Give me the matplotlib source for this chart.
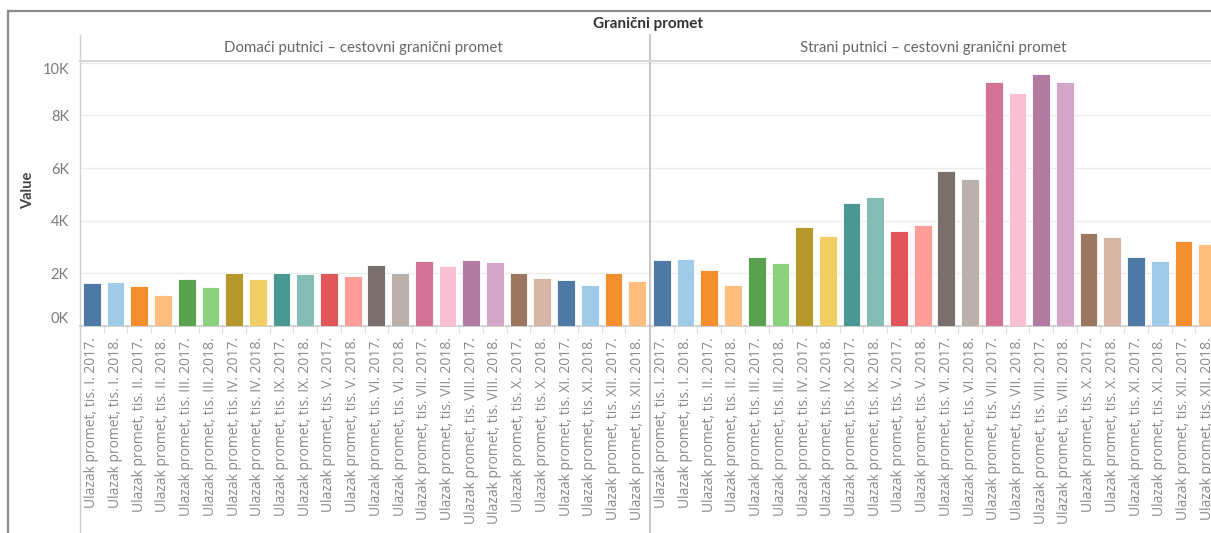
import matplotlib
matplotlib.use("Agg")
import matplotlib.pyplot as plt
from matplotlib.lines import Line2D
from matplotlib.ticker import FuncFormatter

# ---- data ----
months = ["I", "II", "III", "IV", "IX", "V", "VI", "VII", "VIII", "X", "XI", "XII"]
years = ["2017", "2018"]
categories = [f"Ulazak promet, tis. {m}. {y}." for m in months for y in years]

domaci = [1625, 1676, 1537, 1172, 1802, 1499, 2028, 1802, 2028, 1991, 2028, 1902,
          2320, 2000, 2469, 2296, 2519, 2432, 2000, 1815, 1765, 1543, 2000, 1728]
strani = [2520, 2557, 2117, 1575, 2608, 2394, 3780, 3427, 4674, 4901, 3603, 3830,
          5896, 5581, 9260, 8857, 9575, 9260, 3553, 3376, 2608, 2482, 3238, 3112]

panel_titles = ["Domaći putnici – cestovni granični promet",
                "Strani putnici – cestovni granični promet"]
main_title = "Granični promet"
y_label = "Value"
y_ticks = [0, 2000, 4000, 6000, 8000, 10000]

tableau20 = ["#4E79A7", "#A0CBE8", "#F28E2B", "#FFBE7D", "#59A14F", "#8CD17D",
             "#B6992D", "#F1CE63", "#499894", "#86BCB6", "#E15759", "#FF9D9A",
             "#79706E", "#BAB0AC", "#D37295", "#FABFD2", "#B07AA1", "#D4A6C8",
             "#9D7660", "#D7B5A6"]
colors = [tableau20[i % len(tableau20)] for i in range(len(categories))]

plt.rcParams['font.family'] = ['Lato', 'DejaVu Sans']

W, H = 1211, 533
fig = plt.figure(figsize=(W / 100, H / 100), dpi=100)


def fx(x):
    return x / W


def fy(y):
    return 1 - y / H


def rect(x0, y0, x1, y1):
    return [fx(x0), fy(y1), fx(x1) - fx(x0), fy(y0) - fy(y1)]


top_px, base_px = 61, 326
panels = [(80, 649, domaci), (650, 1219, strani)]
axes = []
for k, (x0, x1, vals) in enumerate(panels):
    ax = fig.add_axes(rect(x0, top_px, x1, base_px))
    xs = list(range(len(categories)))
    ax.bar(xs, vals, width=0.75, color=colors, edgecolor='white', linewidth=0.6, zorder=3)
    ax.set_xlim(-0.5, len(categories) - 0.5)
    ax.set_ylim(0, 10070)
    ax.set_yticks(y_ticks)
    ax.grid(axis='y', color='#ededed', linewidth=1, zorder=0)
    for s in ['top', 'left', 'right']:
        ax.spines[s].set_visible(False)
    ax.spines['bottom'].set_color('#c8c8c8')
    ax.spines['bottom'].set_linewidth(1.2)
    ax.set_xticks(xs)
    ax.set_xticklabels(categories, rotation=90, fontsize=10, color='#8a8a8a', va='top',
                       family=['Open Sans', 'DejaVu Sans'])
    ax.tick_params(axis='x', length=0, pad=8)
    ax.set_xticks([i + 0.5 for i in range(len(categories) - 1)], minor=True)
    ax.tick_params(axis='x', which='minor', length=5, color='#e0e0e0', width=0.8)
    if k == 0:
        ax.yaxis.set_major_formatter(FuncFormatter(lambda v, p: f"{int(round(v / 1000))}K"))
        ax.tick_params(axis='y', length=0, pad=8, labelsize=10.5, labelcolor='#7a7a7a')
        labs = ax.get_yticklabels()
        labs[0].set_va('bottom')
        labs[-1].set_va('top')
    else:
        ax.tick_params(axis='y', length=0, labelleft=False)
    axes.append(ax)

# panel headers
fig.text(fx(363), fy(48), panel_titles[0], ha='center', va='center', fontsize=10.8, color='#666666')
fig.text(fx(933), fy(48), panel_titles[1], ha='center', va='center', fontsize=10.8, color='#666666')
fig.text(fx(648), fy(24), main_title, ha='center', va='center', fontsize=11, fontweight='bold', color='#333333')
fig.text(fx(28), fy(190), y_label, ha='center', va='center', rotation=90, fontsize=10.5,
         fontweight='bold', color='#444444')

# structural lines
lines = [
    ((8, 8), (11, H), '#8c8c8c', 1.6),
    ((8, W), (11, 11), '#8c8c8c', 1.6),
    ((80, 80), (35, H), '#cfcfcf', 1.0),
    ((649.5, 649.5), (35, H), '#bdbdbd', 1.2),
    ((80, W), (61, 61), '#d6d6d6', 1.5),
]
for (xa, xb), (ya, yb), c, lw in lines:
    fig.add_artist(Line2D([fx(xa), fx(xb)], [fy(ya), fy(yb)], color=c, linewidth=lw,
                          transform=fig.transFigure))

fig.savefig("out.png", dpi=100)
